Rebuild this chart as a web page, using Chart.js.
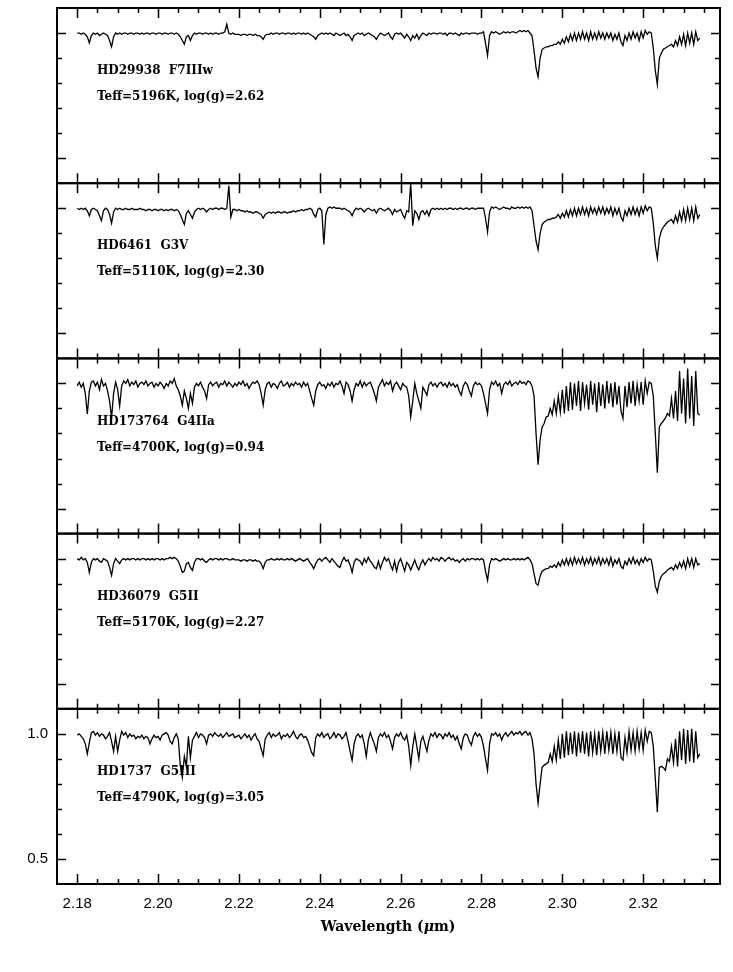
<!DOCTYPE html>
<html>
<head>
<meta charset="utf-8">
<script src="https://cdn.jsdelivr.net/npm/chart.js@4.4.0/dist/chart.umd.min.js"></script>
<style>
html,body{margin:0;padding:0;background:#fff;}
canvas{display:block;}
</style>
</head>
<body>
<canvas id="c" width="733" height="972"></canvas>
<script>
// ---- data ----
const WAVE_START = 2.180;   // micron, first sample
const WAVE_STEP = 0.0005;   // micron, sampling step
const X_TICK_VALUES = [2.18, 2.20, 2.22, 2.24, 2.26, 2.28, 2.30, 2.32];
const X_TICK_LABELS = ['2.18', '2.20', '2.22', '2.24', '2.26', '2.28', '2.30', '2.32'];
const Y_TICK_VALUES = [0.5, 1.0];
const Y_TICK_LABELS = ['0.5', '1.0'];

const STAR_NAMES = ['HD29938  F7IIIw', 'HD6461  G3V', 'HD173764  G4IIa', 'HD36079  G5II', 'HD1737  G5III'];
const STAR_PARAMS = ['Teff=5196K, log(g)=2.62', 'Teff=5110K, log(g)=2.30', 'Teff=4700K, log(g)=0.94', 'Teff=5170K, log(g)=2.27', 'Teff=4790K, log(g)=3.05'];

const FLUX_HD29938 = [
1.00,1.00,0.995,1.00,0.995,0.985,0.96,0.99,1.00,0.995,
1.00,0.99,0.995,1.00,0.995,0.99,0.97,0.945,0.985,1.00,
0.995,1.00,0.995,1.00,1.00,0.995,1.00,1.00,0.995,1.00,
1.00,0.995,1.00,0.995,1.00,1.00,0.995,1.00,1.00,0.995,
1.00,1.00,0.995,1.00,1.00,0.995,1.00,1.00,0.995,1.00,
0.995,0.985,0.97,0.955,0.985,0.99,0.97,0.99,1.00,0.995,
1.00,1.00,0.995,1.00,1.00,0.995,1.00,0.995,1.00,1.00,
0.995,1.00,1.00,1.005,1.035,1.00,0.995,1.00,0.995,0.995,
0.995,0.99,0.995,0.995,0.99,0.995,0.995,0.99,0.995,0.99,
0.99,0.985,0.975,0.99,0.995,0.995,1.00,0.995,1.00,1.00,
0.995,1.00,1.00,0.995,1.00,1.00,0.995,1.00,0.995,1.00,
1.00,0.995,1.00,0.995,1.00,0.995,0.99,0.985,0.975,0.99,
0.995,1.00,0.995,1.00,0.995,1.00,0.995,0.99,1.00,0.995,
0.99,0.995,1.00,0.99,0.995,0.985,0.97,0.99,0.995,1.00,
0.995,1.00,0.99,0.995,1.00,0.995,0.99,0.985,0.975,0.99,
1.00,0.995,0.99,0.995,1.00,0.985,0.975,0.995,1.00,0.995,
1.00,0.99,0.98,0.995,0.985,0.97,0.99,0.98,0.995,0.975,
0.99,1.00,0.995,0.99,1.00,0.995,1.00,1.00,0.995,1.00,
1.00,0.995,1.00,0.99,1.00,1.00,0.995,1.00,0.995,0.99,
1.00,0.995,1.00,1.00,0.995,1.00,1.00,1.00,0.995,1.00,
1.00,1.005,0.96,0.91,0.99,1.005,1.00,1.005,1.00,0.995,
1.00,1.005,1.00,1.005,1.00,1.005,1.005,1.00,1.005,1.01,
1.005,1.01,1.005,1.01,1.00,0.99,0.93,0.86,0.825,0.90,
0.935,0.94,0.945,0.945,0.95,0.95,0.955,0.955,0.965,0.955,
0.975,0.96,0.985,0.965,0.995,0.97,1.00,0.97,1.00,0.975,
1.005,0.975,1.00,0.97,1.005,0.975,1.00,0.975,1.005,0.98,
1.00,0.975,1.00,0.98,1.00,0.97,0.995,0.975,1.00,0.965,
0.95,0.99,0.97,1.00,0.975,1.005,0.98,1.00,0.97,1.005,
0.98,1.01,0.995,1.005,1.00,0.94,0.85,0.795,0.90,0.92,
0.935,0.94,0.945,0.95,0.955,0.945,0.97,0.95,0.985,0.955,
0.995,0.95,1.00,0.96,1.00,0.955,1.005,0.97,0.98
];

const FLUX_HD6461 = [
1.00,0.995,1.00,0.995,1.00,0.99,0.97,0.995,1.00,0.995,
0.99,0.97,0.95,0.99,1.00,0.995,0.975,0.94,0.985,1.00,
0.995,1.00,0.995,0.995,1.00,0.995,0.995,1.00,0.995,0.995,
0.995,1.00,0.995,0.995,0.99,0.995,0.995,0.99,0.995,0.995,
0.99,0.995,0.995,0.99,0.995,0.99,0.995,0.995,0.99,0.995,
0.99,0.975,0.955,0.935,0.98,0.99,0.975,0.96,0.985,0.995,
1.00,0.995,1.00,0.995,0.985,0.995,1.00,0.995,1.00,1.00,
0.995,1.00,1.00,0.995,1.00,1.09,0.965,0.995,0.995,0.99,
0.995,0.99,0.99,0.985,0.99,0.985,0.985,0.98,0.985,0.985,
0.98,0.975,0.96,0.975,0.98,0.985,0.98,0.985,0.98,0.985,
0.985,0.98,0.985,0.985,0.98,0.985,0.985,0.99,0.985,0.99,
0.99,0.995,0.99,0.995,0.995,1.00,0.995,0.975,0.965,0.995,
1.00,0.99,0.855,0.975,1.00,1.005,1.00,1.005,1.00,1.00,
1.00,0.995,1.00,0.995,0.99,0.985,0.97,0.99,1.00,0.995,
1.00,0.995,0.985,0.995,1.00,0.995,0.99,0.995,0.98,0.995,
1.00,0.995,0.99,0.995,1.00,0.99,0.975,0.995,0.985,0.99,
0.995,0.975,0.96,0.99,0.985,1.10,0.93,0.99,0.98,0.955,
0.985,0.99,0.975,0.99,0.97,0.995,1.00,0.995,1.00,0.995,
1.00,0.995,1.00,0.995,1.00,1.00,0.995,1.00,0.995,1.00,
1.00,0.995,1.00,1.00,0.995,1.00,1.00,0.995,1.00,1.00,
1.00,1.00,0.96,0.905,0.985,1.005,1.00,1.005,1.00,0.995,
1.00,1.005,1.00,1.00,0.995,1.005,1.00,1.00,1.005,1.00,
1.005,1.00,1.005,1.00,1.005,0.99,0.93,0.87,0.834,0.90,
0.935,0.945,0.95,0.955,0.955,0.96,0.96,0.965,0.975,0.96,
0.98,0.965,0.99,0.965,0.995,0.97,1.00,0.97,1.00,0.975,
1.005,0.975,1.00,0.97,1.005,0.98,1.00,0.975,1.005,0.98,
1.005,0.975,1.00,0.98,1.005,0.97,1.00,0.975,1.00,0.965,
0.95,0.99,0.97,1.00,0.975,1.005,0.975,1.00,0.97,1.005,
0.98,1.01,0.99,1.005,1.00,0.94,0.85,0.80,0.88,0.91,
0.925,0.935,0.945,0.95,0.955,0.94,0.97,0.945,0.985,0.95,
0.995,0.95,1.00,0.955,1.00,0.95,1.005,0.96,0.975
];

const FLUX_HD173764 = [
0.99,1.005,0.985,1.00,0.96,0.878,0.97,1.005,1.01,0.99,
1.005,0.975,1.015,0.99,1.00,0.97,0.93,0.862,0.96,1.005,
0.975,0.91,0.99,1.01,1.00,1.015,0.99,1.005,0.995,1.01,
0.985,1.00,1.005,0.995,1.01,0.99,1.00,1.005,0.985,1.00,
0.99,1.005,0.995,0.98,1.00,0.99,1.01,1.00,1.02,0.99,
0.975,0.95,0.913,0.97,0.94,0.90,0.96,0.92,0.985,1.00,
0.99,1.005,0.985,0.97,0.94,0.995,1.005,0.99,1.00,1.005,
0.985,1.00,0.995,1.01,0.99,1.005,0.995,0.985,1.00,0.99,
1.005,0.995,1.01,0.99,1.00,0.98,0.995,1.005,1.00,1.01,
0.995,0.96,0.913,0.975,1.00,1.005,0.985,1.00,0.995,0.98,
1.00,1.01,0.99,0.995,1.005,0.985,1.00,0.99,1.005,0.995,
1.00,0.985,1.005,0.99,1.00,0.97,0.94,0.913,0.97,0.995,
1.005,0.99,0.995,0.98,1.00,0.99,1.005,0.985,1.00,0.995,
1.01,0.99,0.96,1.005,0.995,0.97,0.93,0.975,1.00,0.99,
1.01,0.985,1.005,0.99,1.00,1.005,0.985,0.96,0.93,0.985,
1.00,1.015,0.99,1.005,0.995,1.01,0.97,0.995,1.005,0.99,
0.975,1.00,0.99,0.985,0.95,0.866,0.93,1.00,0.96,0.93,
0.90,0.985,0.97,0.953,0.995,1.005,0.99,1.00,0.985,1.00,
1.005,0.99,1.00,0.985,1.005,0.99,1.00,0.985,0.995,0.97,
0.953,0.99,1.005,0.995,0.97,0.95,0.99,1.005,0.995,1.00,
0.99,0.96,0.92,0.88,0.975,1.005,0.995,1.01,0.99,1.00,
0.96,0.995,1.005,0.995,1.01,0.99,1.00,1.005,0.995,1.01,
1.00,1.005,0.995,1.01,1.005,0.99,0.95,0.80,0.675,0.775,
0.826,0.84,0.866,0.87,0.90,0.875,0.93,0.88,0.95,0.885,
0.975,0.88,0.99,0.89,1.005,0.895,1.00,0.91,1.01,0.89,
1.005,0.92,0.995,0.895,1.01,0.915,1.00,0.885,1.005,0.91,
0.995,0.90,1.01,0.92,1.00,0.905,1.005,0.915,0.99,0.89,
0.86,0.99,0.905,1.005,0.92,1.01,0.91,0.995,0.93,1.005,
0.915,1.01,0.96,1.005,1.00,0.95,0.80,0.643,0.826,0.84,
0.85,0.862,0.88,0.87,0.94,0.86,0.97,0.85,1.05,0.88,
1.02,0.84,1.06,0.86,1.03,0.83,1.05,0.88,0.874
];

const FLUX_HD36079 = [
1.00,0.995,1.005,0.995,1.00,0.985,0.945,0.985,1.00,0.995,
1.00,0.99,0.985,1.00,0.995,0.99,0.965,0.933,0.98,1.00,
0.99,0.98,0.995,1.00,0.995,1.00,0.995,1.00,1.00,0.995,
1.00,0.995,1.00,1.00,0.995,1.00,0.995,1.00,0.995,1.00,
1.00,0.995,1.00,0.995,1.00,1.00,1.005,1.00,1.005,1.00,
0.99,0.97,0.945,0.95,0.98,0.985,0.965,0.953,0.985,1.00,
1.00,0.995,1.00,0.99,0.985,0.995,1.00,0.995,1.00,1.00,
0.995,1.00,0.995,1.00,1.00,0.995,0.995,1.00,0.995,0.995,
0.995,0.99,0.995,0.995,0.99,0.995,0.995,0.99,0.995,0.99,
0.99,0.98,0.96,0.985,0.995,0.995,1.00,0.995,0.995,1.00,
0.995,1.00,0.995,0.995,1.00,0.995,1.00,0.995,0.99,0.995,
1.00,0.995,0.99,0.995,1.00,0.985,0.975,0.96,0.98,0.995,
1.00,0.99,1.00,1.005,0.995,0.985,1.00,0.99,0.98,0.97,
0.965,0.99,1.005,0.99,0.995,0.975,0.945,0.985,1.00,0.995,
0.99,0.975,1.00,0.985,1.005,0.99,0.98,0.965,0.96,0.99,
0.96,0.985,1.005,0.99,1.00,0.975,0.955,0.99,0.95,0.985,
1.00,0.975,0.95,0.985,0.975,0.955,0.975,0.995,0.97,0.955,
0.98,0.995,0.975,0.99,1.00,0.99,1.005,0.995,1.00,0.99,
1.005,1.00,0.99,1.00,1.005,0.995,1.00,0.99,0.995,0.985,
0.995,1.00,0.99,1.00,0.995,1.00,1.00,0.995,1.00,0.995,
1.00,0.995,0.95,0.913,0.975,1.00,0.995,1.00,0.995,0.99,
0.995,1.00,0.995,1.00,0.995,0.995,1.00,0.995,1.00,0.995,
1.00,0.995,1.00,1.005,0.995,0.98,0.94,0.90,0.894,0.93,
0.95,0.955,0.96,0.96,0.97,0.965,0.975,0.965,0.985,0.97,
0.995,0.975,1.00,0.975,1.00,0.975,1.005,0.98,1.00,0.98,
1.005,0.975,1.00,0.98,1.005,0.975,1.00,0.98,1.005,0.975,
1.00,0.98,1.00,0.975,1.005,0.97,0.995,0.98,1.00,0.97,
0.96,0.99,0.975,1.00,0.98,1.005,0.98,0.995,0.975,1.00,
0.985,1.005,0.99,1.00,0.995,0.95,0.89,0.866,0.91,0.93,
0.94,0.945,0.955,0.96,0.965,0.955,0.975,0.96,0.985,0.965,
0.99,0.96,1.00,0.97,1.00,0.965,1.00,0.975,0.98
];

const FLUX_HD1737 = [
0.995,1.00,0.99,0.98,0.96,0.92,0.965,1.005,1.01,0.995,
1.005,0.99,1.00,0.995,0.98,0.99,1.005,0.97,0.93,0.99,
0.93,0.975,1.01,0.995,1.005,0.985,1.00,0.99,0.995,0.98,
0.99,0.985,0.995,0.98,0.99,0.985,0.96,0.98,0.995,0.985,
0.99,0.975,0.995,1.00,1.005,0.995,0.97,0.96,0.985,1.00,
0.98,0.874,0.826,0.91,0.87,0.99,0.905,0.975,0.99,1.005,
0.985,1.00,0.995,0.985,0.96,0.995,1.00,0.99,1.005,0.995,
0.99,1.00,0.985,0.995,1.005,0.99,0.995,1.00,0.985,0.99,
0.995,0.98,0.99,1.00,0.985,0.995,0.975,0.99,1.00,0.98,
0.97,0.94,0.913,0.98,0.995,1.005,0.985,1.00,0.99,0.995,
1.005,0.98,0.995,0.99,1.00,0.985,0.995,1.01,0.99,0.98,
0.995,1.00,0.985,0.99,0.975,0.95,0.925,0.913,0.985,1.00,
0.99,1.005,0.985,0.995,1.00,0.98,0.99,1.005,0.985,1.00,
0.995,0.98,0.99,1.005,0.97,0.93,0.894,0.96,0.99,1.00,
0.985,0.995,0.96,0.91,0.975,1.005,0.98,0.96,0.93,0.985,
1.00,0.99,1.005,0.985,0.995,0.97,0.94,0.985,1.00,0.99,
1.005,0.985,0.975,0.995,0.95,0.874,0.95,1.00,0.95,0.90,
0.97,0.99,0.96,0.93,0.975,1.00,0.99,1.005,0.985,1.00,
0.995,0.98,1.00,0.99,1.005,0.985,0.995,0.975,0.99,0.96,
0.94,0.985,1.00,0.995,0.97,0.955,0.99,1.005,0.99,1.00,
0.985,0.95,0.90,0.854,0.96,1.00,0.995,1.005,0.99,1.00,
0.975,0.995,1.005,0.99,1.00,1.01,0.995,1.005,1.00,1.01,
0.995,1.005,1.01,0.995,1.005,0.98,0.92,0.80,0.723,0.80,
0.866,0.875,0.88,0.886,0.92,0.89,0.95,0.895,0.975,0.90,
1.00,0.905,1.01,0.915,1.005,0.92,1.01,0.91,1.005,0.925,
1.01,0.92,1.005,0.91,1.01,0.925,1.00,0.915,1.01,0.93,
1.005,0.92,1.01,0.935,1.005,0.92,1.00,0.93,1.01,0.905,
0.895,0.985,0.925,1.01,0.935,1.005,0.93,1.01,0.94,1.005,
0.935,1.015,0.97,1.01,1.005,0.95,0.82,0.687,0.866,0.87,
0.865,0.854,0.90,0.89,0.95,0.885,0.98,0.87,1.01,0.895,
1.02,0.88,1.015,0.89,1.02,0.885,1.01,0.905,0.92
];

const PANEL_FLUX = [FLUX_HD29938, FLUX_HD6461, FLUX_HD173764, FLUX_HD36079, FLUX_HD1737];

// ---- build ----
const WAVELENGTHS = FLUX_HD29938.map((_, i) => +(WAVE_START + i * WAVE_STEP).toFixed(4));
const PANEL_IDS = ['p1', 'p2', 'p3', 'p4', 'p5'];

const datasets = PANEL_FLUX.map((flux, p) => ({
  label: STAR_NAMES[p],
  data: flux.map((f, i) => ({x: WAVELENGTHS[i], y: f})),
  yAxisID: PANEL_IDS[p],
  borderColor: '#000',
  borderWidth: 1.3,
  pointRadius: 0,
  tension: 0,
  fill: false
}));

function yScale(showLabels) {
  return {
    type: 'linear',
    position: 'left',
    stack: 'panels',
    stackWeight: 1,
    min: 0.4,
    max: 1.1,
    grid: {display: false, drawTicks: false},
    border: {display: false},
    afterFit: s => { s.width = 57; s.paddingTop = 0; s.paddingBottom = 0; },
    afterBuildTicks: s => { s.ticks = Y_TICK_VALUES.map(v => ({value: v})); },
    ticks: {
      display: showLabels,
      padding: 9,
      color: '#000',
      font: {family: 'Liberation Sans', size: 15},
      callback: (v, i) => Y_TICK_LABELS[i]
    }
  };
}

// first defined stacked axis ends at the bottom
const scales = {};
scales.p5 = yScale(true);
scales.p4 = yScale(false);
scales.p3 = yScale(false);
scales.p2 = yScale(false);
scales.p1 = yScale(false);
scales.x = {
  type: 'linear',
  position: 'bottom',
  min: 2.175,
  max: 2.339,
  grid: {display: false, drawTicks: false},
  border: {display: false},
  afterFit: s => { s.height = 88; s.paddingLeft = 0; s.paddingRight = 0; },
  afterBuildTicks: s => { s.ticks = X_TICK_VALUES.map(v => ({value: v})); },
  ticks: {
    autoSkip: false,
    maxRotation: 0,
    padding: 11,
    color: '#000',
    font: {family: 'Liberation Sans', size: 15},
    callback: (v, i) => X_TICK_LABELS[i]
  }
};

const framePlugin = {
  id: 'frame',
  afterDatasetsDraw(chart) {
    const ctx = chart.ctx;
    const xs = chart.scales.x;
    const area = chart.chartArea;
    ctx.save();
    ctx.strokeStyle = '#000';
    ctx.fillStyle = '#000';
    PANEL_IDS.forEach((id, p) => {
      const ys = chart.scales[id];
      const top = ys.top, bot = ys.bottom;
      ctx.lineWidth = 1.5;
      ctx.beginPath();
      for (let k = 435; k <= 467; k++) {
        const px = Math.round(xs.getPixelForValue(k / 200)) + 0.5;
        if (px <= area.left + 1 || px >= area.right - 1) continue;
        const len = (k % 4 === 0) ? 10 : 5;
        ctx.moveTo(px, top); ctx.lineTo(px, top + len);
        ctx.moveTo(px, bot); ctx.lineTo(px, bot - len);
      }
      for (let k = 5; k <= 10; k++) {
        const py = Math.round(ys.getPixelForValue(k / 10)) + 0.5;
        const len = (k === 5 || k === 10) ? 9 : 5;
        ctx.moveTo(area.left, py); ctx.lineTo(area.left + len, py);
        ctx.moveTo(area.right, py); ctx.lineTo(area.right - len, py);
      }
      ctx.stroke();
      ctx.lineWidth = 2;
      ctx.strokeRect(area.left, top, area.right - area.left, bot - top);
      ctx.font = 'bold 12px "DejaVu Serif"';
      ctx.textAlign = 'left';
      ctx.textBaseline = 'middle';
      ctx.fillText(STAR_NAMES[p], area.left + 40, top + 63);
      ctx.fillText(STAR_PARAMS[p], area.left + 40, top + 89);
    });
    const parts = [
      {t: 'Wavelength (', f: 'bold 14px "DejaVu Serif"'},
      {t: '\u03BC', f: 'italic bold 14px "DejaVu Serif"'},
      {t: 'm)', f: 'bold 14px "DejaVu Serif"'}
    ];
    let total = 0;
    parts.forEach(pt => { ctx.font = pt.f; pt.w = ctx.measureText(pt.t).width; total += pt.w; });
    let x0 = 388 - total / 2;
    ctx.textAlign = 'left';
    ctx.textBaseline = 'middle';
    parts.forEach(pt => { ctx.font = pt.f; ctx.fillText(pt.t, x0, 927); x0 += pt.w; });
    ctx.restore();
  }
};

new Chart(document.getElementById('c'), {
  type: 'line',
  data: {datasets},
  options: {
    responsive: false,
    animation: false,
    events: [],
    layout: {padding: {top: 8, right: 13, left: 0, bottom: 0}},
    plugins: {legend: {display: false}, tooltip: {enabled: false}, title: {display: false}},
    scales
  },
  plugins: [framePlugin]
});
</script>
</body>
</html>
